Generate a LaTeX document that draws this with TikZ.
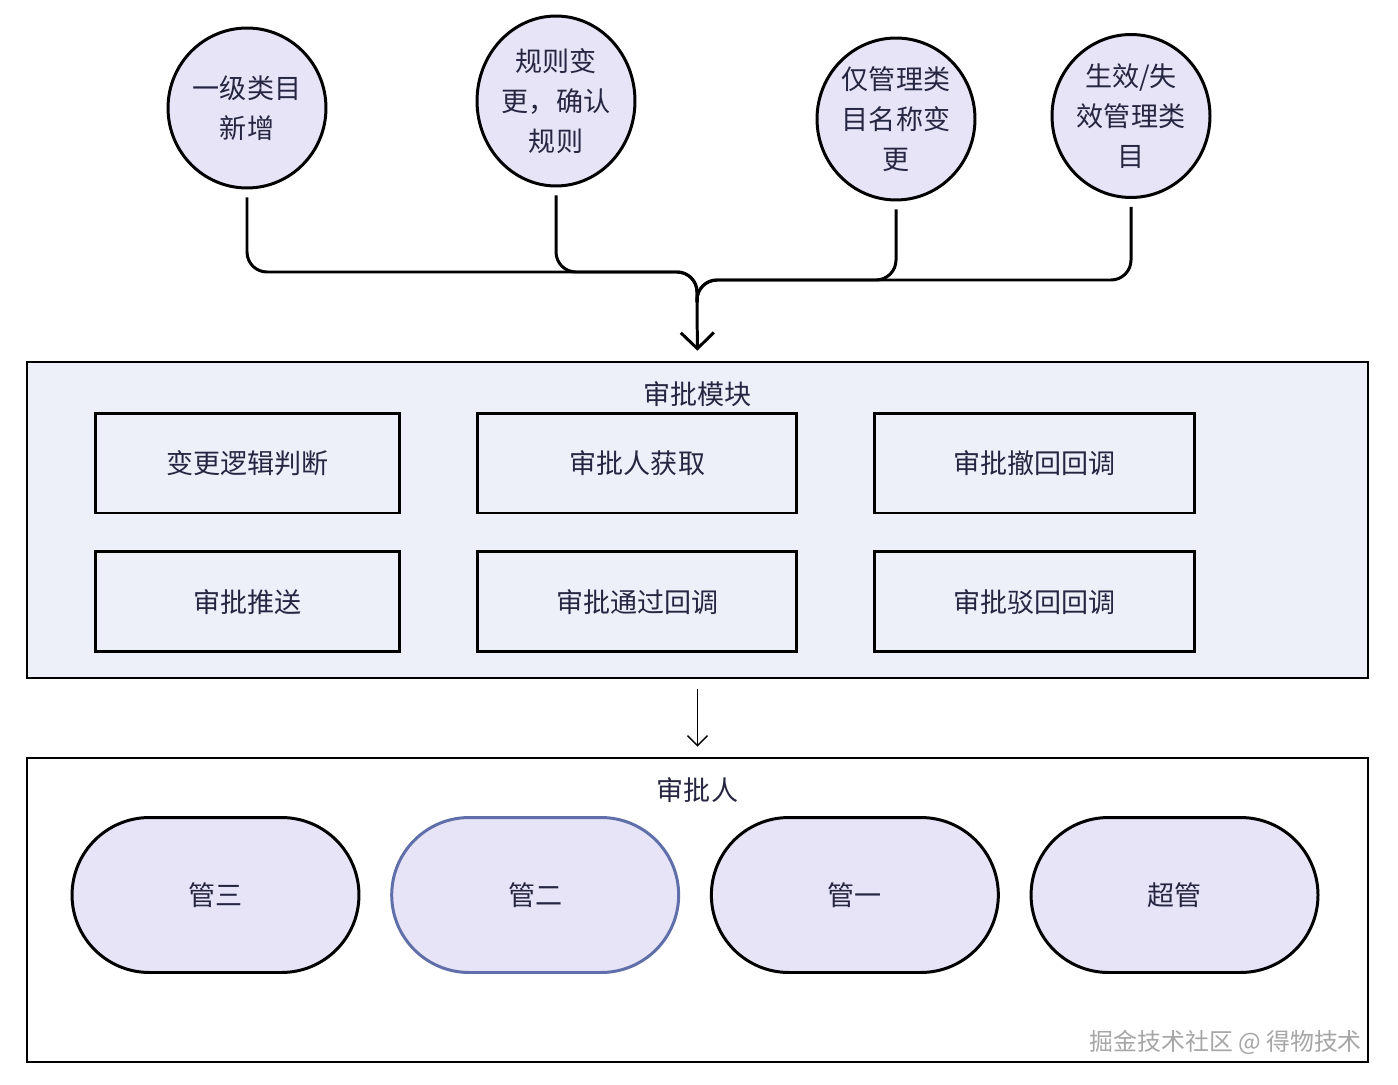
\documentclass[tikz,border=0pt]{standalone}
\usepackage{fontspec}
\setmainfont{Noto Sans CJK SC}
\usepackage{tikz}
\usetikzlibrary{positioning,shapes.geometric,arrows.meta,calc}

\definecolor{txt}{RGB}{38,38,66}
\definecolor{lav}{RGB}{230,228,246}
\definecolor{panelbg}{RGB}{238,240,249}
\definecolor{pillblue}{RGB}{96,110,170}

\tikzset{
  lbl/.style={text=txt,font=\fontsize{15.4}{22.7}\selectfont,align=center},
  cat/.style={lbl,ellipse,draw=black,line width=1.7pt,fill=lav,minimum width=3.16cm,minimum height=3.2cm,inner sep=0pt},
  panel/.style={draw=black,line width=1.5pt,minimum width=26.82cm},
  box/.style={lbl,draw=black,line width=1.7pt,minimum height=2cm},
  pill/.style={lbl,draw=black,line width=1.7pt,fill=lav,rounded corners=1.55cm,minimum width=5.74cm,minimum height=3.1cm},
  wire/.style={line width=1.7pt,rounded corners=0.4cm,shorten <=0.16cm},
}

\begin{document}
\begin{tikzpicture}[x=0.02cm,y=-0.02cm]
  \useasboundingbox[fill=white] (0,0) rectangle (1398,1084);

  % categories
  \node[cat] (c1) at (247,108) {一级类目\\新增};
  \node[cat,minimum height=3.4cm] (c2) at (556,101) {规则变\\更，确认\\规则};
  \node[cat,minimum height=3.24cm] (c3) at (896,119) {仅管理类\\目名称变\\更};
  \node[cat,minimum height=3.26cm] (c4) at (1131,116) {生效/失\\效管理类\\目};

  \coordinate (jl) at (697,272);
  \coordinate (jr) at (697,280);
  \coordinate (m) at (697,302);
  \draw[wire] (c1.south) |- (jl) -- (m);
  \draw[wire] (c2.south) |- (jl) -- (m);
  \draw[wire] (c3.south) |- (jr) -- (m);
  \draw[wire] (c4.south) |- (jr) -- (m);

  % approval module
  \node[panel,fill=panelbg,minimum height=6.32cm] (mod) at (697.5,520) {};
  \node[lbl,below=0.3cm of mod.north] (modt) {审批模块};
  \draw[line width=1.7pt,-{Straight Barb[length=0.32cm,width=0.66cm]},shorten >=0.2cm] (m) -- (mod.north);

  \node[box,minimum width=6.1cm] (b1) at (247.5,463) {变更逻辑判断};
  \node[box,minimum width=6.38cm,right=1.5cm of b1] (b2) {审批人获取};
  \node[box,minimum width=6.4cm,right=1.5cm of b2] (b3) {审批撤回回调};
  \node[box,minimum width=6.1cm,below=0.72cm of b1] (b4) {审批推送};
  \node[box,minimum width=6.38cm,below=0.72cm of b2] (b5) {审批通过回调};
  \node[box,minimum width=6.4cm,below=0.72cm of b3] (b6) {审批驳回回调};

  % approvers
  \node[panel,fill=white,minimum height=6.08cm] (ppl) at (697.5,910) {};
  \node[lbl,below=0.3cm of ppl.north] (pplt) {审批人};
  \draw[line width=0.8pt,-{Straight Barb[length=0.2cm,width=0.4cm]},shorten <=0.2cm,shorten >=0.2cm] (mod.south) -- (ppl.north);

  \node[pill] (p3) at (215.5,895) {管三};
  \node[pill,draw=pillblue,right=0.595cm of p3] (p2) {管二};
  \node[pill,right=0.595cm of p2] (p1) {管一};
  \node[pill,right=0.595cm of p1] (p0) {超管};

  \node[anchor=east,text=gray!70,font=\fontsize{13.6}{16}\selectfont] (wm) at (1368,1042) {掘金技术社区 @ 得物技术};
\end{tikzpicture}
\end{document}
